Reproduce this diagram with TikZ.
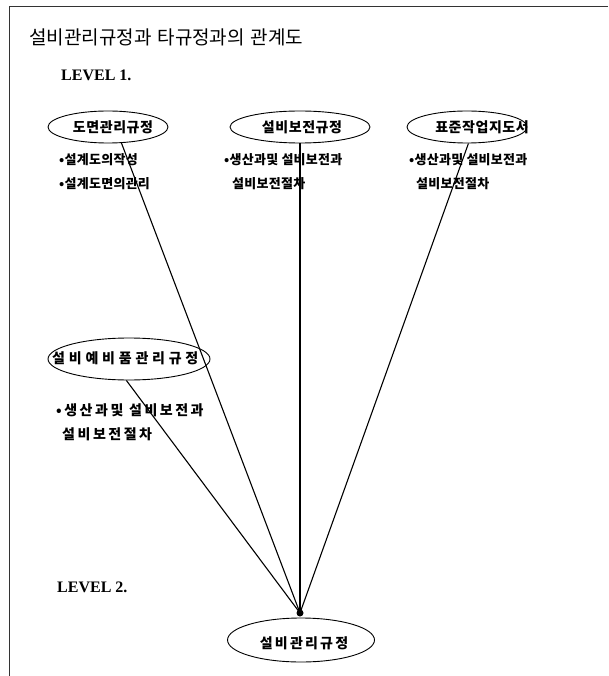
\documentclass[tikz,border=0pt]{standalone}
\usepackage{fontspec}
\usetikzlibrary{shapes.geometric}
\newfontfamily\krtitle{Noto Sans CJK KR}
\newfontfamily\krlab[LetterSpace=4]{Noto Sans CJK KR}
\newfontfamily\krlabw[LetterSpace=27]{Noto Sans CJK KR}
\newfontfamily\krlabm[LetterSpace=16]{Noto Sans CJK KR}
\newfontfamily\krbul[LetterSpace=2]{Noto Sans CJK KR}
\newfontfamily\krbulw[LetterSpace=18]{Noto Sans CJK KR}
\newfontfamily\levfont{Liberation Serif}
\tikzset{
  reg/.style={ellipse, draw, line width=0.9pt, inner sep=0pt},
  lab/.style={anchor=center, inner sep=0pt, font=\krlab\bfseries\fontsize{14}{16}\selectfont},
  bul/.style={anchor=west, inner sep=0pt, font=\krbul\bfseries\fontsize{13}{15}\selectfont},
  bulw/.style={anchor=west, inner sep=0pt, font=\krbulw\bfseries\fontsize{14}{16}\selectfont},
  lev/.style={anchor=west, inner sep=0pt, font=\levfont\bfseries\fontsize{16}{18}\selectfont},
  link/.style={line width=1.1pt},
}
\begin{document}
\begin{tikzpicture}[x=1pt,y=-1pt]
\useasboundingbox (0,0) rectangle (608,676);
% frame
\draw[line width=0.8pt, black!80] (608,6) -- (9,6) -- (9,676);
% title
\node[anchor=west, inner sep=0pt, font=\krtitle\fontsize{19}{21}\selectfont] (title) at (29,37) {설비관리규정과\hspace{6pt}타규정과의\hspace{6pt}관계도};
\node[lev] (lev1) at (61,75) {LEVEL 1.};
\node[lev] (lev2) at (57,587) {LEVEL 2.};
% level 1 ellipses
\node[reg, minimum width=120pt, minimum height=32pt] (e1) at (108,127) {};
\node[lab] (t1) at (113,127) {도면관리규정};
\node[reg, minimum width=140pt, minimum height=32pt] (e2) at (300,127) {};
\node[lab] (t2) at (302,127) {설비보전규정};
\node[reg, minimum width=120pt, minimum height=32pt] (e3) at (467,127) {};
\node[lab, anchor=east] (t3) at (529,127) {표준작업지도서};
\node[reg, minimum width=162pt, minimum height=42pt] (e4) at (129,359) {};
\node[lab, anchor=west, font=\krlabw\bfseries\fontsize{14}{16}\selectfont] (t4) at (52,358) {설비예비품관리규정};
% bottom
\node[reg, minimum width=147pt, minimum height=44pt] (e5) at (301,640) {};
\node[lab, font=\krlabm\bfseries\fontsize{14}{16}\selectfont] (t5) at (304,643) {설비관리규정};
% bullets
\node[bul] (b11) at (59,160) {•설계도의작성};
\node[bul] (b12) at (59,184) {•설계도면의관리};
\node[bul] (b21) at (224,160) {•생산과및 설비보전과};
\node[bul] (b22) at (232,184) {설비보전절차};
\node[bul] (b31) at (409,160) {•생산과및 설비보전과};
\node[bul] (b32) at (416,184) {설비보전절차};
\node[bulw] (b41) at (56,410) {•생산과및 설비보전과};
\node[bulw] (b42) at (62,434) {설비보전절차};
% dot
\node[circle, fill, inner sep=0pt, minimum size=7pt] (dot) at (300,613) {};
% links
\draw[link] (e1.-50) -- (dot.center);
\draw[link] (e2) -- (dot.center);
\draw[link] (e3.-85) -- (dot.center);
\draw[link] (e4.-97) -- (dot.center);
\end{tikzpicture}
\end{document}
